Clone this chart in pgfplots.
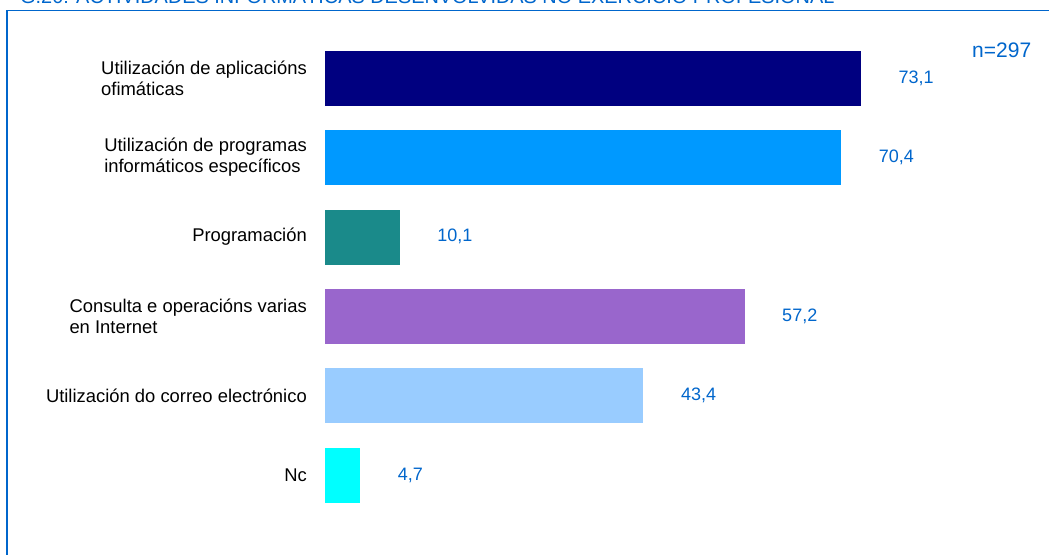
\documentclass[border=0pt]{standalone}
\usepackage{pgfplots}
\pgfplotsset{compat=1.18}
\usepackage{fontspec}
\setmainfont{Liberation Sans}
\definecolor{frameblue}{HTML}{0066CC}
\definecolor{c1}{HTML}{000080}
\definecolor{c2}{HTML}{0099FF}
\definecolor{c3}{HTML}{1A8A8A}
\definecolor{c4}{HTML}{9966CC}
\definecolor{c5}{HTML}{99CCFF}
\definecolor{c6}{HTML}{00FFFF}
\begin{document}
\begin{tikzpicture}
\clip (0pt,0pt) rectangle (1049pt,-554pt);
\fill[white] (0pt,0pt) rectangle (1049pt,-554pt);
\draw[frameblue, line width=1.5pt] (7pt,-10.5pt) rectangle (1100pt,-600pt);
\node[anchor=base west, inner sep=0pt, text=frameblue, font=\fontsize{19.9}{22}\selectfont] at (20pt,-4pt) {G.20: ACTIVIDADES INFORMÁTICAS DESENVOLVIDAS NO EXERCICIO PROFESIONAL};
\begin{axis}[
  at={(325pt,-38.3pt)}, anchor=north west,
  scale only axis, width=732pt, height=476.4pt,
  xmin=0, xmax=100, ymin=-0.5, ymax=5.5,
  y dir=reverse,
  hide axis, clip=false,
  xbar, bar width=54pt, bar shift=0pt,
  point meta=explicit symbolic,
  nodes near coords,
  every node near coord/.append style={anchor=west, xshift=35pt, text=frameblue, font=\fontsize{18}{21}\selectfont},
]
\addplot[fill=c1, draw=c1] coordinates {(73.1,0) [73,1]};
\addplot[fill=c2, draw=c2] coordinates {(70.4,1) [70,4]};
\addplot[fill=c3, draw=c3] coordinates {(10.1,2) [10,1]};
\addplot[fill=c4, draw=c4] coordinates {(57.2,3) [57,2]};
\addplot[fill=c5, draw=c5] coordinates {(43.4,4) [43,4]};
\addplot[fill=c6, draw=c6] coordinates {(4.7,5) [4,7]};
\begin{scope}[every node/.style={anchor=east, align=left, inner sep=0pt, xshift=-18pt, font=\fontsize{18.4}{21}\selectfont}]
\node at (axis cs:0,0) {Utilización de aplicacións\\ofimáticas};
\node at (axis cs:0,1) {Utilización de programas\\informáticos específicos};
\node at (axis cs:0,2) {Programación};
\node at (axis cs:0,3) {Consulta e operacións varias\\en Internet};
\node at (axis cs:0,4) {Utilización do correo electrónico};
\node at (axis cs:0,5) {Nc};
\end{scope}
\end{axis}
\node[anchor=base west, inner sep=0pt, text=frameblue, font=\fontsize{21}{24}\selectfont] at (972pt,-57pt) {n=297};
\end{tikzpicture}
\end{document}
